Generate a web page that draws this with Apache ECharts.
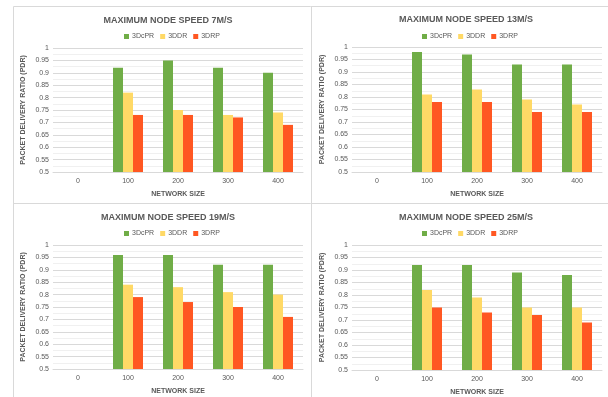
<!DOCTYPE html>
<html><head><meta charset="utf-8">
<script src="https://cdn.jsdelivr.net/npm/echarts@6/dist/echarts.min.js"></script>
<style>html,body{margin:0;padding:0;background:#fff}#c{width:608px;height:397px}</style>
</head><body><div id="c"></div>
<script>
const categories = ['0', '100', '200', '300', '400'];
const seriesNames = ['3DcPR', '3DDR', '3DRP'];
const titles = ['MAXIMUM NODE SPEED 7M/S', 'MAXIMUM NODE SPEED 13M/S', 'MAXIMUM NODE SPEED 19M/S', 'MAXIMUM NODE SPEED 25M/S'];
const yTicks = [0.5, 0.55, 0.6, 0.65, 0.7, 0.75, 0.8, 0.85, 0.9, 0.95, 1];

const speed7_3DcPR = [null, 0.92, 0.95, 0.92, 0.90];
const speed7_3DDR  = [null, 0.82, 0.75, 0.73, 0.74];
const speed7_3DRP  = [null, 0.73, 0.73, 0.72, 0.69];

const speed13_3DcPR = [null, 0.98, 0.97, 0.93, 0.93];
const speed13_3DDR  = [null, 0.81, 0.83, 0.79, 0.77];
const speed13_3DRP  = [null, 0.78, 0.78, 0.74, 0.74];

const speed19_3DcPR = [null, 0.96, 0.96, 0.92, 0.92];
const speed19_3DDR  = [null, 0.84, 0.83, 0.81, 0.80];
const speed19_3DRP  = [null, 0.79, 0.77, 0.75, 0.71];

const speed25_3DcPR = [null, 0.92, 0.92, 0.89, 0.88];
const speed25_3DDR  = [null, 0.82, 0.79, 0.75, 0.75];
const speed25_3DRP  = [null, 0.75, 0.73, 0.72, 0.69];

const panelData = [
  [speed7_3DcPR, speed7_3DDR, speed7_3DRP],
  [speed13_3DcPR, speed13_3DDR, speed13_3DRP],
  [speed19_3DcPR, speed19_3DDR, speed19_3DRP],
  [speed25_3DcPR, speed25_3DDR, speed25_3DRP]
];

const colors = ['#70AD47', '#FFD966', '#FF5722'];
const txt = '#595959';
const layout = [
  {left: 53, top: 48, height: 124, cx: 163, ty: 11, ly: 28},
  {left: 352, top: 47, height: 125, cx: 461, ty: 10, ly: 28},
  {left: 53, top: 245, height: 124, cx: 163, ty: 208, ly: 225},
  {left: 352, top: 245, height: 125, cx: 461, ty: 208, ly: 225}
];

const grid = [], xAxis = [], yAxis = [], series = [], title = [], legend = [];
layout.forEach((L, i) => {
  grid.push({left: L.left, top: L.top, width: 250, height: L.height});
  title.push({text: titles[i], left: L.cx, top: L.ty, textAlign: 'center',
    textStyle: {fontSize: 9, fontWeight: 'bold', color: txt, fontFamily: 'Liberation Sans'}});
  legend.push({data: seriesNames, left: L.cx, top: L.ly, itemWidth: 5, itemHeight: 5, itemGap: 6,
    icon: 'rect', textAlign: 'center', orient: 'horizontal',
    textStyle: {fontSize: 7, color: txt, padding: [0, 0, 0, -2]}});
  xAxis.push({type: 'category', gridIndex: i, data: categories,
    axisTick: {show: false}, axisLine: {lineStyle: {color: '#d9d9d9'}},
    axisLabel: {fontSize: 7, color: txt, margin: 6},
    name: 'NETWORK SIZE', nameLocation: 'middle', nameGap: 19,
    nameTextStyle: {fontSize: 7, fontWeight: 'bold', color: txt}});
  yAxis.push({type: 'value', gridIndex: i, min: 0.5, max: 1, interval: 0.05,
    axisLabel: {fontSize: 7, color: txt, margin: 4, formatter: v => String(+v.toFixed(2))},
    splitLine: {lineStyle: {color: '#d9d9d9', width: 1}},
    minorTick: {show: false, splitNumber: 2},
    minorSplitLine: {show: true, lineStyle: {color: '#f0f0f0'}},
    axisLine: {show: false}, axisTick: {show: false},
    name: 'PACKET DELIVERY RATIO (PDR)', nameLocation: 'middle', nameRotate: 90, nameGap: 26,
    nameTextStyle: {fontSize: 7, fontWeight: 'bold', color: txt}});
  seriesNames.forEach((n, k) => {
    series.push({type: 'bar', name: n, xAxisIndex: i, yAxisIndex: i, data: panelData[i][k],
      barWidth: 10, barGap: '0%', itemStyle: {color: colors[k]}, silent: true});
  });
});

// legend centring via width estimation: shift left by half approximate width
legend.forEach(l => { l.left = l.left - 44; l.textAlign = undefined; });

const line = (x1, y1, x2, y2) => ({type: 'line', shape: {x1, y1, x2, y2}, style: {stroke: '#d9d9d9', lineWidth: 1}, silent: true});
const chart = echarts.init(document.getElementById('c'), null, {renderer: 'canvas'});
chart.setOption({
  animation: false,
  color: colors,
  textStyle: {fontFamily: 'Liberation Sans'},
  title, legend, grid, xAxis, yAxis, series,
  graphic: [
    line(13.5, 6.5, 608, 6.5),
    line(13.5, 6.5, 13.5, 397),
    line(311.5, 6.5, 311.5, 397),
    line(13.5, 203.5, 608, 203.5)
  ]
});
</script></body></html>
